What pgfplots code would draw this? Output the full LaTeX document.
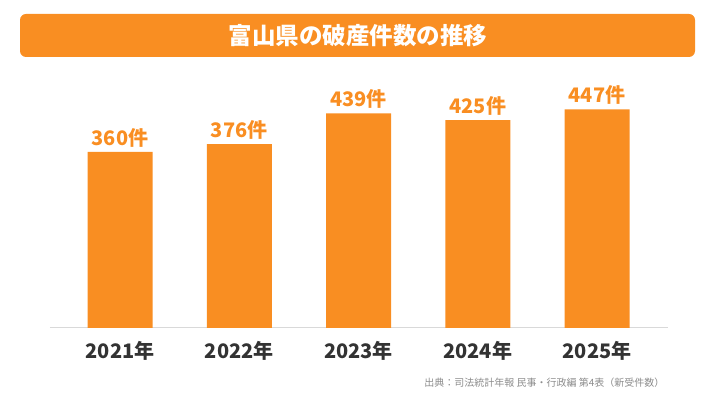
\documentclass[border=0pt]{standalone}
\usepackage{fontspec}
\setmainfont{Noto Sans CJK JP}
\usepackage{pgfplots}
\pgfplotsset{compat=1.18}
\definecolor{bar}{RGB}{249,142,34}
\definecolor{lab}{RGB}{51,51,51}
\definecolor{src}{RGB}{140,140,140}
\begin{document}
\begin{tikzpicture}[x=1pt,y=1pt]
\useasboundingbox (0,0) rectangle (716,403);
\fill[bar, rounded corners=6pt] (20,346) rectangle (695,389);
\node[text=white, font=\bfseries\fontsize{23.5}{26}\selectfont] at (358,367.5) {富山県の破産件数の推移};
\begin{axis}[
  at={(120pt,75pt)}, anchor=origin,
  scale only axis,
  width=618pt, height=244.5pt,
  xmin=-0.587, xmax=4.595,
  ymin=0, ymax=500,
  axis x line=bottom, axis y line=none,
  x axis line style={draw=black!15, line width=1pt, -},
  xtick=data,
  xticklabels={2021年,2022年,2023年,2024年,2025年},
  xtick style={draw=none},
  x tick label style={font=\bfseries\fontsize{20}{24}\selectfont, text=lab, yshift=-8pt},
  ytick=\empty,
  /pgf/number format/assume math mode=true,
  nodes near coords={\pgfmathprintnumber{\pgfplotspointmeta}件},
  every node near coord/.append style={font=\bfseries\fontsize{20}{24}\selectfont, text=bar, yshift=1pt},
  clip=false,
]
\addplot[ybar, bar width=65pt, fill=bar, draw=none] coordinates {(0,360) (1,376) (2,439) (3,425) (4,447)};
\end{axis}
\node[anchor=east, text=src, font=\fontsize{10}{12}\selectfont] at (668,20) {出典：司法統計年報 民事・行政編 第4表（新受件数）};
\end{tikzpicture}
\end{document}
